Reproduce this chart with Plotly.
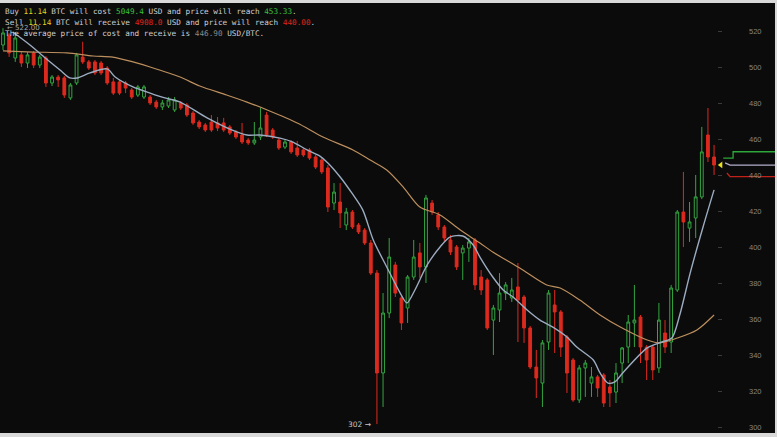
import plotly.graph_objects as go

# ---- candle data (BTC/USD), one candle per index ----
open_ = [512.6, 518.2, 505.4, 507.1, 502.6, 508.2, 501.5, 505.4, 491.5, 494.8,
         494.3, 483.2, 491.5, 505.9, 503.2, 503.2, 502.6, 499.8, 492.1, 492.1,
         491.5, 487.6, 484.8, 483.7, 483.7, 480.9, 478.2, 478.7, 476.5, 480.4,
         479.3, 474.8, 469.8, 468.2, 469.8, 469.3, 469.3, 467.1, 464.3, 462.6,
         459.8, 458.2, 461.5, 473.7, 465.4, 459.8, 455.9, 458.7, 455.4, 454.3,
         454.3, 450.4, 448.7, 444.3, 424.8, 425.4, 412.6, 419.8, 412.6, 409.8,
         402.6, 385.9, 330.4, 363.7, 390.4, 372.1, 366.5, 383.7, 397.1, 389.3,
         424.8, 418.2, 411.5, 404.3, 400.4, 397.1, 399.8, 404.3, 383.7, 382.1,
         359.8, 365.4, 374.8, 372.1, 378.2, 372.6, 355.4, 333.7, 324.8, 347.6,
         368.2, 364.3, 350.4, 337.6, 315.4, 333.2, 324.8, 328.2, 329.3, 322.6,
         319.8, 335.9, 344.8, 358.2, 361.5, 344.8, 344.8, 333.2, 352.6, 347.6,
         376.5, 419.8, 410.9, 416.5, 428.2, 462.6, 450.4]
high = [522.0, 519.3, 519.8, 508.7, 508.7, 509.3, 507.1, 506.5, 495.9, 495.9,
        495.4, 491.5, 508.2, 514.4, 504.3, 504.3, 503.7, 500.9, 494.3, 493.2,
        492.6, 488.7, 490.4, 490.4, 484.8, 482.1, 482.1, 483.7, 483.7, 481.5,
        480.4, 475.9, 470.9, 469.3, 473.7, 472.6, 472.1, 468.2, 465.4, 469.3,
        460.9, 469.8, 477.6, 475.4, 466.5, 460.9, 460.4, 459.8, 459.3, 455.4,
        455.4, 451.5, 449.8, 445.9, 435.9, 435.9, 422.1, 420.9, 413.7, 410.9,
        404.3, 387.6, 374.8, 405.4, 392.1, 373.2, 384.8, 404.3, 402.6, 429.3,
        426.5, 419.8, 412.6, 407.1, 401.5, 401.5, 405.4, 405.4, 387.6, 383.2,
        368.2, 385.9, 380.9, 383.2, 391.5, 373.7, 356.5, 343.2, 348.7, 376.5,
        376.5, 365.4, 351.5, 338.7, 334.8, 337.6, 333.7, 329.3, 330.4, 326.5,
        335.9, 344.8, 362.6, 379.3, 362.6, 345.9, 345.9, 369.3, 359.8, 379.3,
        420.9, 442.1, 425.4, 440.4, 467.1, 477.6, 457.1]
low = [509.8, 506.0, 503.2, 500.4, 499.8, 499.8, 499.8, 489.3, 489.8, 489.3,
       483.2, 482.1, 490.4, 502.1, 498.7, 495.9, 495.9, 490.4, 484.8, 484.8,
       485.9, 482.6, 483.7, 482.6, 479.3, 477.1, 476.5, 477.6, 475.4, 476.5,
       472.6, 468.2, 465.9, 464.3, 464.3, 464.8, 464.3, 462.6, 460.4, 457.6,
       457.1, 457.1, 459.8, 461.5, 460.4, 454.3, 454.8, 452.1, 450.4, 450.4,
       448.7, 443.7, 440.9, 419.8, 420.9, 410.9, 409.8, 410.4, 407.6, 401.5,
       384.8, 302.0, 311.5, 360.9, 372.6, 354.3, 358.2, 382.1, 383.2, 380.4,
       418.2, 409.8, 403.2, 395.9, 387.6, 382.1, 392.1, 376.5, 373.7, 354.3,
       340.4, 358.7, 370.9, 369.8, 347.6, 347.1, 332.6, 316.5, 311.5, 343.2,
       341.5, 339.3, 319.3, 314.3, 313.7, 317.1, 317.1, 317.1, 311.5, 311.5,
       313.7, 324.8, 335.9, 344.8, 335.9, 326.5, 326.5, 330.4, 341.5, 341.5,
       375.4, 400.4, 403.2, 405.4, 427.0, 447.6, 440.4]
close = [519.3, 508.2, 516.5, 502.6, 507.1, 501.5, 505.9, 491.5, 494.8, 493.2,
         484.8, 490.4, 507.1, 503.2, 499.8, 497.1, 497.1, 491.5, 485.9, 485.9,
         488.7, 483.7, 489.3, 489.3, 480.4, 478.2, 480.4, 482.1, 482.1, 477.6,
         473.7, 469.3, 467.1, 465.4, 465.4, 466.5, 465.4, 463.7, 461.5, 458.7,
         458.2, 459.8, 466.5, 462.6, 461.5, 455.4, 458.7, 453.2, 451.5, 451.5,
         449.8, 444.8, 442.1, 422.6, 430.9, 419.3, 419.8, 411.5, 408.7, 402.6,
         385.9, 330.4, 363.7, 394.8, 374.8, 358.2, 383.7, 394.8, 389.3, 427.6,
         419.8, 411.5, 405.4, 397.6, 389.3, 399.8, 403.2, 379.3, 376.5, 355.4,
         366.5, 374.8, 379.3, 376.5, 370.9, 355.4, 333.7, 327.6, 347.1, 374.8,
         364.3, 344.8, 330.4, 315.4, 333.2, 335.9, 328.2, 322.1, 313.7, 319.3,
         330.4, 344.3, 358.7, 359.8, 344.8, 337.6, 332.1, 359.8, 344.8, 377.6,
         419.8, 414.3, 414.3, 428.2, 453.2, 450.4, 445.9]
candle_idx = list(range(len(open_)))

# ---- moving averages ----
ma_fast_x = [1.6, 4.4, 6.9, 9.3, 10.9, 12.1, 14.2, 17.0, 18.3, 21.2, 24.0, 26.4, 28.9, 33.3,
             37.0, 39.8, 41.9, 45.2, 47.3, 49.6, 51.7, 53.0, 55.0, 56.9, 58.7, 60.4, 62.6,
             64.8, 65.9, 67.2, 69.2, 71.3, 72.9, 75.0, 76.7, 77.8, 79.9, 81.6, 83.2, 85.5,
             87.6, 89.7, 92.0, 93.6, 96.3, 97.4, 98.7, 99.8, 101.1, 105.1, 107.5, 109.1,
             110.4, 112.1, 114.2, 116.0]
ma_fast = [519.8, 512.6, 505.4, 498.7, 494.3, 494.3, 497.1, 499.3, 494.8, 489.3, 485.9,
           483.2, 480.9, 472.1, 465.9, 462.6, 462.6, 460.9, 458.7, 454.3, 450.9, 447.1,
           439.3, 430.4, 420.9, 404.3, 389.3, 374.8, 369.3, 376.5, 390.4, 400.4, 405.9,
           406.5, 401.5, 394.8, 383.7, 376.5, 372.6, 365.4, 359.8, 355.9, 350.4, 344.8,
           337.6, 330.4, 324.8, 325.4, 330.4, 344.3, 347.6, 349.8, 362.6, 385.9, 411.5,
           432.1]
ma_slow_x = [0.0, 4.9, 10.4, 14.7, 17.9, 21.2, 24.0, 28.9, 32.1, 36.5, 39.8, 43.1, 48.0,
             52.2, 57.1, 59.9, 62.6, 65.3, 68.0, 71.3, 74.6, 77.8, 79.9, 84.3, 88.7, 90.9,
             94.1, 97.4, 100.7, 105.1, 107.2, 110.0, 113.2, 116.0]
ma_slow = [509.3, 508.7, 508.2, 506.5, 505.9, 503.2, 500.4, 494.8, 489.8, 484.8, 480.9,
           476.5, 469.3, 461.5, 454.3, 448.7, 443.2, 433.7, 422.6, 418.2, 409.8, 402.6,
           397.6, 388.7, 379.3, 377.6, 370.9, 362.6, 355.9, 348.7, 347.1, 349.8, 354.3,
           362.6]

# ---- order-book levels at the right edge ----
bid_x = [117.5, 119.1, 127.0]
bid_y = [449.8, 453.3, 453.3]
avg_x = [117.8, 118.6, 127.0]
avg_y = [447.1, 445.9, 445.9]
ask_x = [118.1, 118.6, 127.0]
ask_y = [441.5, 439.5, 439.5]
last_x = [117.1]
last_y = [446.0]

y_ticks = [300, 320, 340, 360, 380, 400, 420, 440, 460, 480, 500, 520]

GREEN = "#34a540"
RED = "#dc2a1e"
BG = "#0b0b0b"

fig = go.Figure()
fig.add_trace(go.Candlestick(
    x=candle_idx, open=open_, high=high, low=low, close=close,
    increasing=dict(line=dict(color=GREEN, width=1), fillcolor="rgba(0,0,0,0)"),
    decreasing=dict(line=dict(color=RED, width=1), fillcolor=RED),
    whiskerwidth=0, showlegend=False, hoverinfo="skip"))
fig.add_trace(go.Scatter(x=ma_slow_x, y=ma_slow, mode="lines",
                         line=dict(color="#bd8f5e", width=1.2, shape="spline", smoothing=0.8),
                         showlegend=False, hoverinfo="skip"))
fig.add_trace(go.Scatter(x=ma_fast_x, y=ma_fast, mode="lines",
                         line=dict(color="#9cacc0", width=1.4, shape="spline", smoothing=0.8),
                         showlegend=False, hoverinfo="skip"))
fig.add_trace(go.Scatter(x=bid_x, y=bid_y, mode="lines",
                         line=dict(color="#2fa83a", width=1.3, shape="hv"),
                         showlegend=False, hoverinfo="skip"))
fig.add_trace(go.Scatter(x=avg_x, y=avg_y, mode="lines",
                         line=dict(color="#b4b0cc", width=1.3),
                         showlegend=False, hoverinfo="skip"))
fig.add_trace(go.Scatter(x=ask_x, y=ask_y, mode="lines",
                         line=dict(color="#c0221a", width=1.3),
                         showlegend=False, hoverinfo="skip"))
fig.add_trace(go.Scatter(x=last_x, y=last_y, mode="markers",
                         marker=dict(color="#e8e020", size=6, symbol="triangle-left"),
                         showlegend=False, hoverinfo="skip"))

# high / low labels derived from data
hi_i = max(candle_idx, key=lambda i: high[i])
lo_i = min(candle_idx, key=lambda i: low[i])

base = "#cfcfcf"
yel = "#e3d21c"
grn = "#38c23c"
red = "#e0261c"
gry = "#8a8a8a"
lines = [
    f'Buy <span style="color:{yel}">11.14</span> BTC will cost <span style="color:{grn}">5049.4</span> USD and price will reach <span style="color:{grn}">453.33</span>.',
    f'Sell <span style="color:{yel}">11.14</span> BTC will receive <span style="color:{red}">4908.0</span> USD and price will reach <span style="color:{red}">440.00</span>.',
    f'The average price of cost and receive is <span style="color:{gry}">446.90</span> USD/BTC.',
]
line_y = [0.9798, 0.9542, 0.9295]
annotations = []
for t, yy in zip(lines, line_y):
    annotations.append(dict(text=t, xref="paper", yref="paper", x=0.004, y=yy,
                            xanchor="left", yanchor="middle", showarrow=False,
                            font=dict(family="DejaVu Sans Mono", size=7.7, color=base)))
annotations.append(dict(text=f"← {high[hi_i]:.2f}", x=hi_i + 0.4, y=high[hi_i], xref="x", yref="y",
                        xanchor="left", yanchor="middle", showarrow=False,
                        font=dict(family="DejaVu Sans", size=7, color="#a8a8a8")))
annotations.append(dict(text=f"{low[lo_i]:.0f} →", x=lo_i - 0.7, y=low[lo_i], xref="x", yref="y",
                        xanchor="right", yanchor="middle", showarrow=False,
                        font=dict(family="DejaVu Sans", size=7.5, color="#c8c8c8")))

fig.update_layout(
    width=777, height=437,
    margin=dict(l=0, r=2, t=3, b=4),
    paper_bgcolor="#d9d9d9", plot_bgcolor=BG,
    boxgap=0.35,
    annotations=annotations,
    xaxis=dict(range=[-0.49, 125.94], visible=False, rangeslider=dict(visible=False),
               showgrid=False, zeroline=False, fixedrange=True),
    yaxis=dict(range=[297.05, 535.94], side="right", anchor="free", position=0.9316,
               tickvals=y_ticks, ticks="inside", ticklen=4, tickcolor="#3a3a3a", tickwidth=1,
               showgrid=False, zeroline=False, showline=False,
               tickfont=dict(family="Liberation Sans", size=7.5, color="#858585"),
               ticklabelstandoff=26, fixedrange=True),
)

fig.write_html(
    "out.html",
    config={"displayModeBar": False},
    post_script="document.body.style.margin='0';document.body.style.overflow='hidden';",
)
